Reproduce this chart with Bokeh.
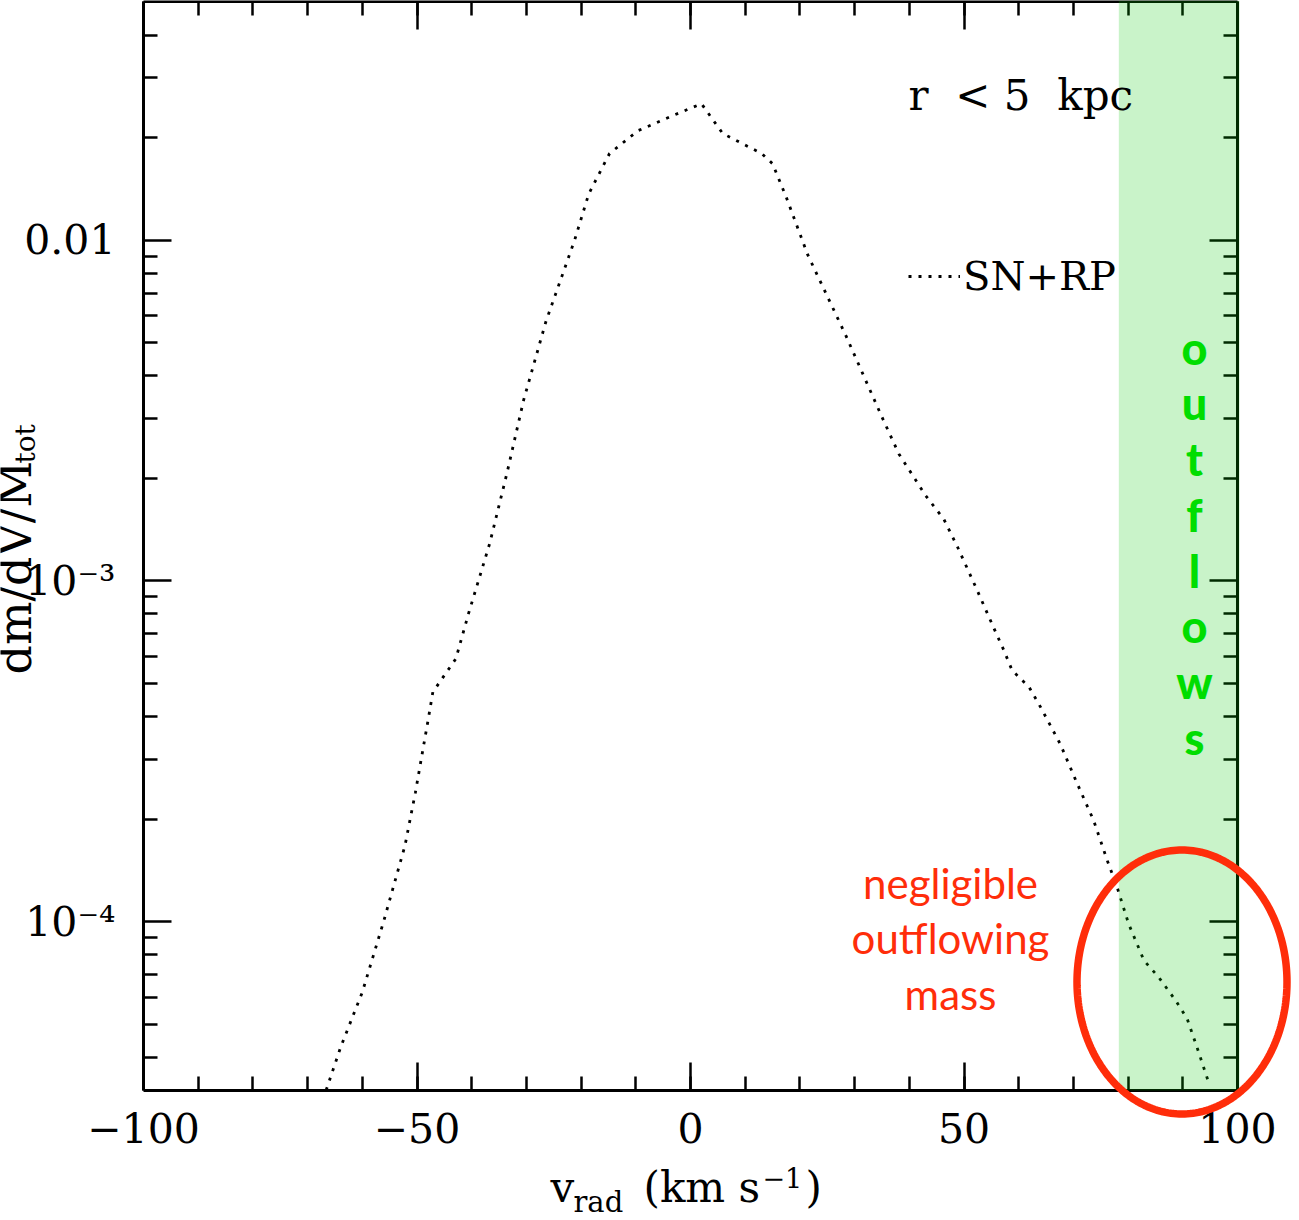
import numpy as np
from bokeh.plotting import figure
from bokeh.models import (FixedTicker, LinearAxis, LogAxis, BoxAnnotation, Label,
                          PolyAnnotation, Legend, LegendItem, Range1d)
from bokeh.embed import file_html
from bokeh.resources import INLINE

# Radial-velocity distribution of gas mass inside r < 5 kpc (SN+RP run)
v_rad = [-66.6, -63.9, -60.0, -56.1, -52.2, -50.3, -48.0, -47.1, -42.9, -40.6,
         -36.7, -33.5, -30.5, -26.4, -21.2, -18.6, -14.8, -9.6, -3.1, 2.0,
         5.9, 13.0, 15.0, 17.5, 21.4, 25.3, 28.3, 35.0, 38.1, 43.0,
         46.3, 48.8, 52.4, 55.4, 57.3, 58.8, 61.9, 64.0, 67.6, 70.7,
         73.7, 76.2, 78.0, 80.1, 82.9, 85.6, 88.7, 90.8, 92.6, 94.8]
dm_dv = [3.2e-5, 4.3e-5, 6.2e-5, 1.0e-4, 1.67e-4, 2.39e-4, 3.88e-4, 4.72e-4, 5.91e-4, 8.0e-4,
         1.29e-3, 2.09e-3, 3.4e-3, 5.8e-3, 1.0e-2, 1.37e-2, 1.8e-2, 2.1e-2, 2.33e-2, 2.52e-2,
         2.06e-2, 1.8e-2, 1.68e-2, 1.34e-2, 9.1e-3, 6.7e-3, 5.3e-3, 3.03e-3, 2.36e-3, 1.78e-3,
         1.52e-3, 1.26e-3, 9.4e-4, 7.3e-4, 6.25e-4, 5.46e-4, 4.88e-4, 4.26e-4, 3.32e-4, 2.54e-4,
         1.98e-4, 1.51e-4, 1.26e-4, 9.84e-5, 7.68e-5, 6.86e-5, 5.86e-5, 5.18e-5, 4.27e-5, 3.34e-5]

series_label = "SN+RP"
region_label = "r\u00a0 < 5\u00a0 kpc"
outflow_band = (78.3, 100.0)

x_major = [-100, -50, 0, 50, 100]
x_minor = list(range(-90, 100, 10))
x_tick_labels = {-100: "\u2212100", -50: "\u221250", 0: "0", 50: "50", 100: "100"}

y_major = [1e-4, 1e-3, 1e-2]
y_minor = [m * 10.0 ** e for e in (-5, -4, -3, -2) for m in range(2, 10)
           if 3.3e-5 < m * 10.0 ** e < 0.049]
y_tick_labels = {1e-4: "10\u207b\u2074", 1e-3: "10\u207b\u00b3", 1e-2: "0.01"}

# plotted box limits
X_LO, X_HI = -100.0, 100.0
Y_LO, Y_HI = 3.19e-5, 0.0503

# canvas size and where the plotted box sits on it (pixels)
W, H = 1299, 1220
BL, BR, BT, BB = 143, 1237, 1, 1090

SERIF = "DejaVu Serif"
SANS = "Lato"
HEAVY_SANS = "Lato Black, Lato"
RED = "#ff2d0a"
GREEN = "#00dd00"

_XS = (X_HI - X_LO) / (BR - BL)
_LLO, _LHI = np.log10(Y_LO), np.log10(Y_HI)
_YS = (_LHI - _LLO) / (BB - BT)


def dx(px):
    """canvas x pixel -> data x"""
    return float(X_LO + (px - BL) * _XS)


def dy(py):
    """canvas y pixel -> data y (log scale)"""
    return float(10 ** (_LHI - (py - BT) * _YS))


# The frame covers the whole canvas; the axes are pinned to the box edges so that
# the titles and the ring around the outflow tail can sit outside the box.
p = figure(width=W, height=H, x_range=Range1d(dx(0), dx(W)), y_range=Range1d(dy(H), dy(0)),
           y_axis_type="log", output_backend="svg", toolbar_location=None,
           min_border_left=0, min_border_right=0, min_border_top=0, min_border_bottom=0,
           background_fill_color="white", border_fill_color="white",
           outline_line_color=None)
p.grid.visible = False

top_axis = LinearAxis()
right_axis = LogAxis()
p.add_layout(top_axis, "above")
p.add_layout(right_axis, "right")


def style_axis(ax, major, minor, where, bounds, overrides=None):
    ax.fixed_location = where
    ax.bounds = bounds
    ax.ticker = FixedTicker(ticks=major, minor_ticks=minor)
    ax.axis_line_width = 3
    ax.axis_line_color = "black"
    ax.major_tick_in = 28
    ax.major_tick_out = 0
    ax.minor_tick_in = 14
    ax.minor_tick_out = 0
    ax.major_tick_line_width = 2.5
    ax.minor_tick_line_width = 2.5
    ax.major_tick_line_color = "black"
    ax.minor_tick_line_color = "black"
    if overrides is None:
        ax.major_label_text_font_size = "1px"
        ax.major_label_text_alpha = 0
        ax.major_label_standoff = 0
    else:
        ax.major_label_overrides = overrides
        ax.major_label_text_font = SERIF
        ax.major_label_text_font_size = "41px"
        ax.major_label_text_color = "black"


style_axis(p.below[0], x_major, x_minor, Y_LO, (X_LO, X_HI), x_tick_labels)
p.below[0].major_label_standoff = 22
style_axis(p.left[0], y_major, y_minor, X_LO, (Y_LO, Y_HI), y_tick_labels)
p.left[0].major_label_standoff = 28
style_axis(top_axis, x_major, x_minor, Y_HI, (X_LO, X_HI))
style_axis(right_axis, y_major, y_minor, X_HI, (Y_LO, Y_HI))

curve = p.line(v_rad, dm_dv, line_color="black", line_width=2.8, line_dash="3 7")

# shaded outflow velocity band, drawn over the axes so the frame shows through tinted
band = BoxAnnotation(left=outflow_band[0], right=dx(BR + 2), bottom=Y_LO, top=dy(BT - 1),
                     fill_color="#00c800", fill_alpha=0.21, line_alpha=0)
p.add_layout(band)

legend = Legend(items=[LegendItem(label=series_label, renderers=[curve])],
                location=(908, H - 299), padding=0, margin=0, spacing=0,
                glyph_width=52, glyph_height=40, label_standoff=3,
                label_text_font=SERIF, label_text_font_size="40px",
                label_text_color="black",
                border_line_alpha=0, background_fill_alpha=0)
p.add_layout(legend)


def text(px, baseline, s, size, font=SERIF, color="black", align="left", angle=0.0,
         style="normal"):
    """place a text by its baseline in canvas pixels"""
    if angle:
        x, y = dx(baseline - 0.35 * size), dy(px)
    else:
        x, y = dx(px), dy(baseline - 0.35 * size)
    p.add_layout(Label(x=x, y=y, text=s, angle=angle, text_font=font,
                       text_font_size=f"{size}px", text_color=color, text_align=align,
                       text_baseline="middle", text_font_style=style))


text(908, 110, region_label, 42)

for i, ch in enumerate("outflows"):
    text(1194, 363 + 55.7 * i, ch, 45, font=HEAVY_SANS, color=GREEN, align="center",
         style="bold")

for i, line in enumerate(["negligible", "outflowing", "mass"]):
    text(950, 897 + 55.5 * i, line, 42, font=SANS, color=RED, align="center")

theta = np.linspace(0, 2 * np.pi, 241)
ring = PolyAnnotation(xs=[dx(1181.5 + 105 * np.cos(t)) for t in theta],
                      ys=[dy(981.5 + 132 * np.sin(t)) for t in theta],
                      fill_alpha=0, line_color=RED, line_alpha=1, line_width=7.5)
p.add_layout(ring)

# axis titles built from pieces to get sub/superscripts
text(550, 1202, "v", 42)
text(573, 1212, "rad", 29)
text(643, 1202, "(km s", 42)
text(762, 1186, "\u22121", 27)
text(805, 1202, ")", 42)

text(674, 31, "dm/dV/M", 46, angle=np.pi / 2)
text(463, 35, "tot", 28, angle=np.pi / 2)

open("out.html", "w").write(file_html(p, INLINE))
